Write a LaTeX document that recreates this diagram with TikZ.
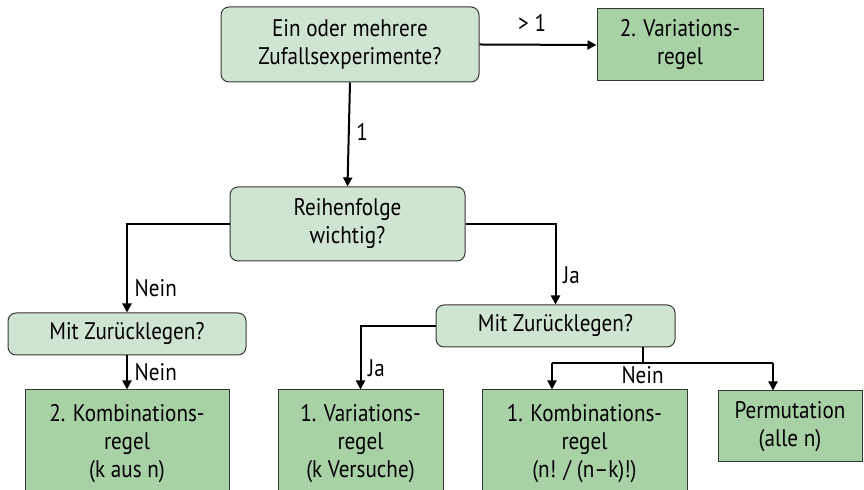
\documentclass[tikz,border=0pt]{standalone}
\usepackage{fontspec}
\setmainfont{PT Sans}[FakeStretch=0.88]
\usetikzlibrary{arrows.meta}
\definecolor{frage}{RGB}{207,229,209}
\definecolor{regel}{RGB}{168,209,166}
\definecolor{rand}{RGB}{55,55,55}

\begin{document}
\begin{tikzpicture}[x=0.5pt, y=-0.5pt,
    every node/.style={font=\fontsize{12}{14}\selectfont},
    frage/.style={draw=rand, fill=frage, rounded corners=4pt, align=center, inner sep=0pt, line width=0.5pt},
    regel/.style={draw=rand, fill=regel, align=center, inner sep=0pt, line width=0.5pt},
    pfeil/.style={line width=1pt, -{Triangle[length=4.5pt,width=4.5pt]}},
    linie/.style={line width=1pt}]
        \useasboundingbox (0,0) rectangle (864,490);

        % Fragen
        \node[frage, minimum width=129pt, minimum height=37.5pt] (anzahl) at (350,44.5) {Ein oder mehrere\\Zufallsexperimente?};
        \node[frage, minimum width=117.5pt, minimum height=37pt] (reihe) at (347.5,224) {Reihenfolge\\wichtig?};
        \node[frage, minimum width=119pt, minimum height=21pt] (zurueckL) at (127,334) {Mit Zurücklegen?};
        \node[frage, minimum width=119.5pt, minimum height=21pt] (zurueckR) at (555.5,326) {Mit Zurücklegen?};

        % Regeln
        \node[regel, minimum width=83pt, minimum height=36pt] (var2) at (680,45) {2. Variations-\\regel};
        \node[regel, minimum width=102pt, minimum height=54pt] (komb2) at (127,444) {2. Kombinations-\\regel\\(k aus n)};
        \node[regel, minimum width=82.5pt, minimum height=54pt] (var1) at (360.5,444) {1. Variations-\\regel\\(k Versuche)};
        \node[regel, minimum width=102.5pt, minimum height=54pt] (komb1) at (584.5,444) {1. Kombinations-\\regel\\(n! / (n--k)!)};
        \node[regel, minimum width=72pt, minimum height=35.5pt] (perm) at (790,426.5) {Permutation\\(alle n)};

        \coordinate (teilung) at (643,363);
        \coordinate (teilL) at (552,363);
        \coordinate (teilR) at (773,363);

        \draw[pfeil] (anzahl.east) -- node[above=3pt, pos=0.45] {> 1} (var2.west);
        \draw[pfeil] (anzahl.south) -- node[right, pos=0.48] {1} (reihe.north);
        \draw[pfeil] (reihe.west) -| node[right, pos=0.86] {Nein} (zurueckL.north);
        \draw[pfeil] (reihe.east) -| node[right, pos=0.82] {Ja} (zurueckR.north);
        \draw[pfeil] (zurueckL.south) -- node[right] {Nein} (komb2.north);
        \draw[pfeil] (zurueckR.west) -| node[right, pos=0.83] {Ja} (var1.north);
        \draw[linie] (zurueckR.south -| teilung) -- (teilung);
        \draw[linie] (teilL) -- node[below, pos=0.41, inner sep=1pt] {Nein} (teilR);
        \draw[pfeil] (teilL) -- (teilL |- komb1.north);
        \draw[pfeil] (teilR) -- (teilR |- perm.north);
    \end{tikzpicture}
\end{document}
